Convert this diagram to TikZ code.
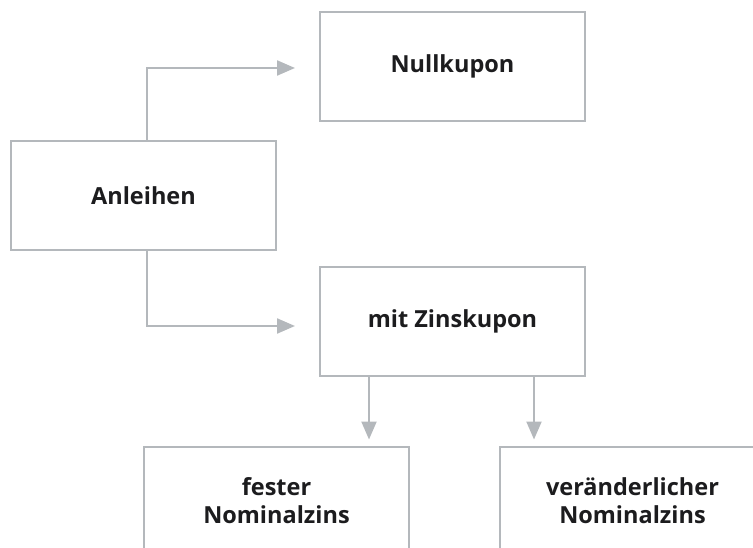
\documentclass[tikz,border=0pt]{standalone}
\usepackage{fontspec}
\setmainfont{Open Sans}
\usetikzlibrary{arrows.meta}
\definecolor{linegray}{RGB}{180,184,188}
\definecolor{txt}{RGB}{28,28,30}
\begin{document}
\begin{tikzpicture}[x=1pt,y=-1pt,
  box/.style={draw=linegray, line width=2pt, fill=white, minimum width=265pt, minimum height=109pt,
    inner sep=0pt, align=center, text=txt, font=\fontsize{23.5}{28}\selectfont\bfseries},
  arr/.style={draw=linegray, line width=2.2pt, -{Triangle[length=18pt,width=15pt]}}]
\useasboundingbox (0,0) rectangle (753,548);
\clip (0,0) rectangle (753,548);
\node[box] (null) at (452.5,66.5) {Nullkupon};
\node[box] (anl) at (143.5,196) {Anleihen};
\node[box] (zins) at (452.5,321.5) {mit Zinskupon};
\node[box] (fest) at (276.5,501) {fester\\Nominalzins};
\node[box] (var) at (632.5,501) {veränderlicher\\Nominalzins};
\draw[arr] ([xshift=3.5pt]anl.north) |- ([xshift=-24pt,yshift=-1.5pt]null.west);
\draw[arr] ([xshift=3.5pt]anl.south) |- ([xshift=-24pt,yshift=-4.5pt]zins.west);
\coordinate (d1) at ([xshift=-83.5pt]zins.south);
\coordinate (d2) at ([xshift=81.5pt]zins.south);
\draw[arr, shorten >=6pt] (d1) -- (d1 |- fest.north);
\draw[arr, shorten >=6pt] (d2) -- (d2 |- var.north);
\end{tikzpicture}
\end{document}
